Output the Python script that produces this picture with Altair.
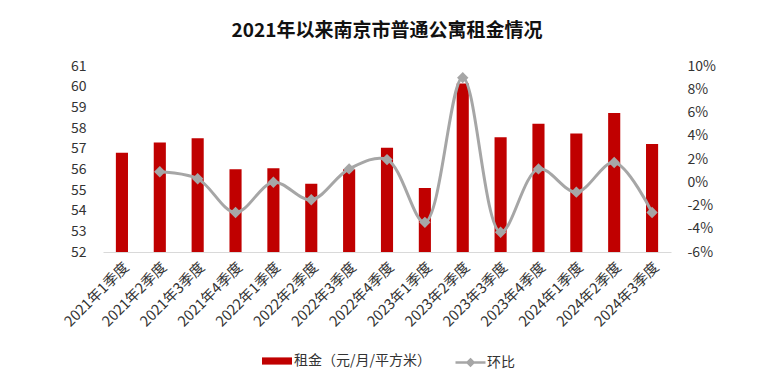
import altair as alt
import pandas as pd

quarters = ["2021年1季度", "2021年2季度", "2021年3季度", "2021年4季度",
            "2022年1季度", "2022年2季度", "2022年3季度", "2022年4季度",
            "2023年1季度", "2023年2季度", "2023年3季度", "2023年4季度",
            "2024年1季度", "2024年2季度", "2024年3季度"]
rent = [56.8, 57.3, 57.5, 56.0, 56.05, 55.3, 56.0, 57.05,
        55.1, 60.15, 57.55, 58.2, 57.73, 58.72, 57.22]
mom = [None, 0.9, 0.3, -2.6, 0.0, -1.5, 1.15, 1.95,
       -3.45, 9.0, -4.3, 1.15, -0.85, 1.7, -2.6]

rent_label = "租金（元/月/平方米）"
mom_label = "环比"

df = pd.DataFrame({"quarter": quarters, "rent": rent, "mom": mom})
df["s1"] = rent_label
df["s2"] = mom_label

FONT = "Noto Sans CJK SC"
RED = "#C00000"
GRAY = "#A6A6A6"

x = alt.X("quarter:N", sort=quarters, title=None,
          scale=alt.Scale(paddingInner=0.68, paddingOuter=0.34),
          axis=alt.Axis(labelAngle=-45, ticks=False, domainColor="#D9D9D9",
                        domainWidth=1, labelFontSize=14.5, labelColor="#333333",
                        labelPadding=8, labelFont=FONT))

bars = alt.Chart(df).mark_bar(color=RED, clip=True).encode(
    x=x,
    y=alt.Y("rent:Q", title=None,
            scale=alt.Scale(domain=[52, 61], nice=False, zero=False),
            axis=alt.Axis(values=list(range(52, 62)), grid=False, domain=False,
                          ticks=False, labelPadding=17, labelFontSize=14,
                          labelColor="#333333", labelFont=FONT)),
    color=alt.Color("s1:N", title=None,
                    scale=alt.Scale(domain=[rent_label], range=[RED]),
                    legend=alt.Legend(orient="none", legendX=159, legendY=280,
                                      symbolType="M-1,-0.24H1V0.24H-1Z",
                                      symbolSize=900, symbolStrokeWidth=0,
                                      labelFontSize=14, labelFont=FONT,
                                      labelColor="#333333", labelOffset=2)),
)

line_df = df.dropna(subset=["mom"])

yr = alt.Y("mom:Q", title=None,
           scale=alt.Scale(domain=[-6, 10], nice=False, zero=False),
           axis=alt.Axis(orient="right", values=list(range(-6, 11, 2)), grid=False,
                         domain=False, ticks=False, labelPadding=16,
                         labelFontSize=14, labelColor="#333333", labelFont=FONT,
                         labelExpr="datum.value + '%'"))

line = alt.Chart(line_df).mark_line(color=GRAY, strokeWidth=3,
                                    interpolate="catmull-rom").encode(
    x=x, y=yr,
    stroke=alt.Stroke("s2:N", title=None,
                      scale=alt.Scale(domain=[mom_label], range=[GRAY]),
                      legend=alt.Legend(orient="none", legendX=351, legendY=280,
                                        symbolType="M-1,0H1M0,-0.2L0.2,0L0,0.2L-0.2,0Z",
                                        symbolSize=900, symbolStrokeWidth=2.5,
                                        symbolFillColor=GRAY,
                                        labelFontSize=14, labelFont=FONT,
                                        labelColor="#333333", labelOffset=0)),
)

pts = alt.Chart(line_df).mark_point(shape="diamond", filled=True, size=130,
                                    color=GRAY, opacity=1).encode(x=x, y=yr)

right = alt.layer(line, pts)

chart = alt.layer(bars, right).resolve_scale(
    y="independent", color="independent", stroke="independent"
).properties(
    width=568, height=186,
    padding={"left": 53, "top": 14, "right": 10, "bottom": 0},
    title=alt.Title("2021年以来南京市普通公寓租金情况", fontSize=19, fontWeight="bold",
                    font=FONT, color="#111111", anchor="middle", frame="group",
                    offset=18),
).configure_view(stroke=None)

chart.save("out.html", embed_options={"renderer": "svg", "actions": False})
